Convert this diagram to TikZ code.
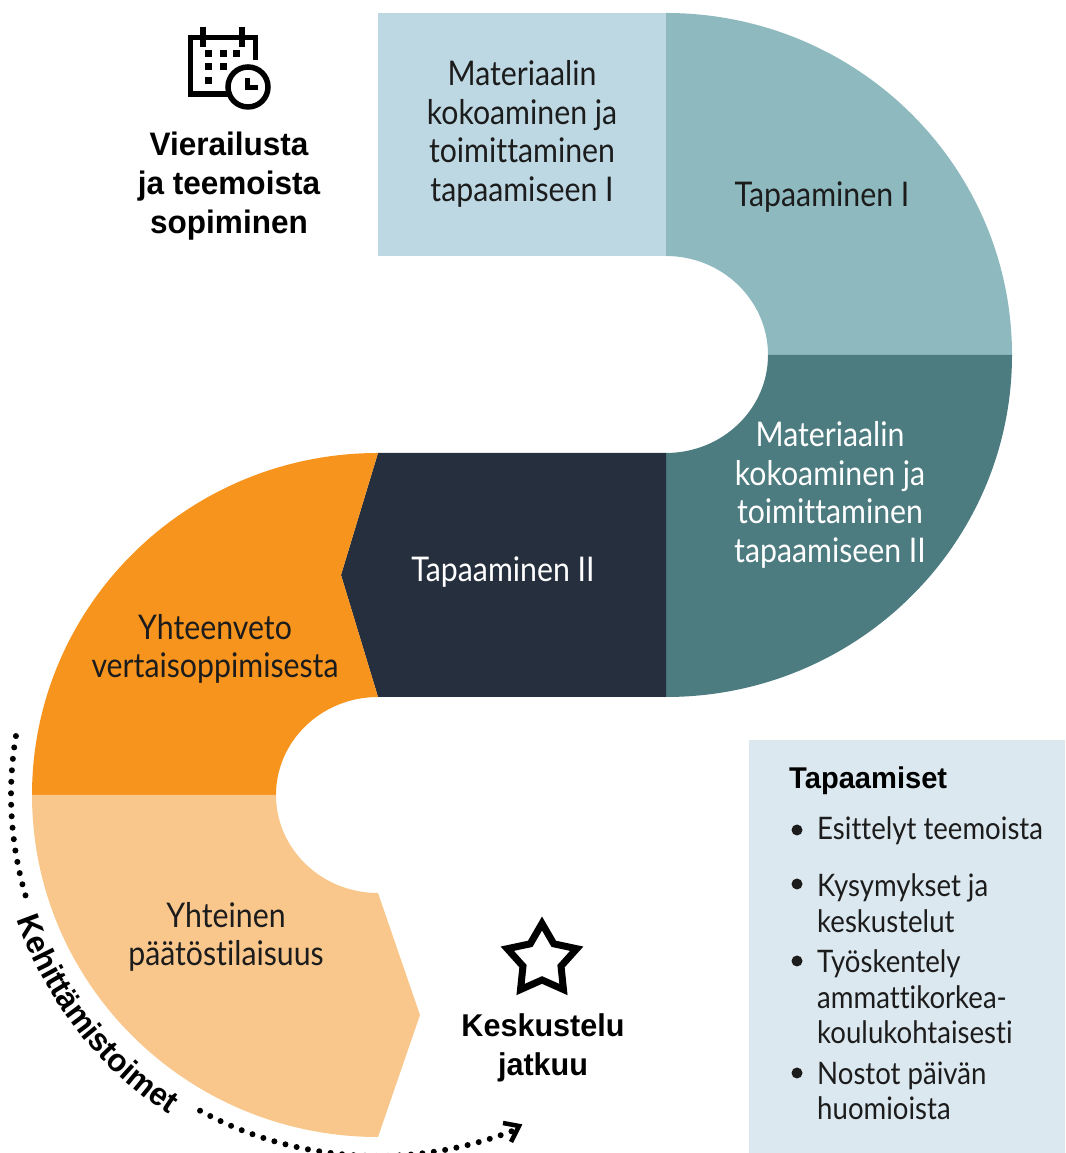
\documentclass[tikz,border=0pt]{standalone}
\usepackage{fontspec}
\setmainfont{Lato}
\newfontfamily\condf[FakeStretch=0.89,Ligatures=NoCommon]{Lato}
\newfontfamily\boldf[FakeStretch=0.97]{Liberation Sans Bold}
\usetikzlibrary{decorations.text}
\definecolor{cLightBlue}{HTML}{BDD8E3}
\definecolor{cTeal}{HTML}{8EB9BE}
\definecolor{cDeepTeal}{HTML}{4C7B80}
\definecolor{cNavy}{HTML}{262F3E}
\definecolor{cOrange}{HTML}{F7941E}
\definecolor{cPeach}{HTML}{F9C78C}
\definecolor{cPanel}{HTML}{DCE8EF}
\definecolor{cInk}{HTML}{1C1C1C}
\tikzset{
  lab/.style={align=center,inner sep=0pt,text=cInk,font=\condf\fontsize{34}{38.5}\selectfont},
  labw/.style={lab,text=white},
  head/.style={align=center,inner sep=0pt,text=black,font=\boldf\fontsize{32.5}{39}\selectfont},
  item/.style={align=left,inner sep=0pt,anchor=west,text=cInk,font=\condf\fontsize{31}{35.5}\selectfont},
  bul/.style={circle,fill=cInk,inner sep=0pt,minimum size=11pt},
  dots/.style={draw=black,line width=6pt,line cap=round,dash pattern=on 0pt off 11.5pt},
  cal/.style={draw=black,line width=5.5pt},
  cell/.style={fill=black,inner sep=0pt,minimum size=7pt}
}
\begin{document}
\begin{tikzpicture}[x=1pt,y=1pt]
\useasboundingbox (0,0) rectangle (1065,1153);
% band shapes
\fill[cLightBlue] (378,1140) rectangle (666,897);
\fill[cTeal] (666,1140) arc[start angle=90,end angle=0,x radius=346,y radius=342]
  -- (768,798) arc[start angle=0,end angle=90,x radius=102,y radius=99] -- cycle;
\fill[cDeepTeal] (1012,798) arc[start angle=0,end angle=-90,x radius=346,y radius=342]
  -- (666,700) arc[start angle=-90,end angle=0,x radius=102,y radius=98] -- cycle;
\fill[cNavy] (378,700) -- (666,700) -- (666,456) -- (378,456) -- (341,578) -- cycle;
\fill[cOrange] (378,700) arc[start angle=90,end angle=180,x radius=346,y radius=342]
  -- (276,358) arc[start angle=180,end angle=90,x radius=102,y radius=98] -- (341,578) -- cycle;
\fill[cPeach] (32,358) arc[start angle=180,end angle=270,x radius=346,y radius=342]
  -- (420,138) -- (378,260) arc[start angle=270,end angle=180,x radius=102,y radius=98] -- cycle;
% band labels
\node[lab] (mat1) at (522,1019) {Materiaalin\\kokoaminen ja\\toimittaminen\\tapaamiseen I};
\node[lab] (tap1) at (822,956) {Tapaaminen I};
\node[labw] (mat2) at (830,658) {Materiaalin\\kokoaminen ja\\toimittaminen\\tapaamiseen II};
\node[labw] (tap2) at (503,581) {Tapaaminen II};
\node[lab] (yht1) at (215,504) {Yhteenveto\\vertaisoppimisesta};
\node[lab] (yht2) at (226,216) {Yhteinen\\päätöstilaisuus};
% heads
\node[head] (vier) at (229,967) {Vierailusta\\ja teemoista\\sopiminen};
\node[head,font=\boldf\fontsize{31.5}{39}\selectfont] (kesk) at (543,105) {Keskustelu\\jatkuu};
% calendar icon
\draw[cal,line join=miter] (255.5,1093) -- (255.5,1115.5) -- (190.5,1115.5) -- (190.5,1059) -- (228,1059);
\draw[cal] (203,1126) -- (203,1106);
\draw[cal] (242,1126) -- (242,1106);
\node[cell] (c1) at (208,1099) {};
\node[cell] (c2) at (223,1099) {};
\node[cell] (c3) at (236,1099) {};
\node[cell] (c4) at (208,1086) {};
\node[cell] (c5) at (223,1086) {};
\node[cell] (c6) at (208,1072) {};
\draw[cal] (248,1066) circle[radius=20];
\draw[draw=black,line width=5pt,line join=miter] (247,1075) -- (247,1065) -- (258,1065);
% star
\begin{scope}[shift={(542,193)}]
\draw[draw=black,line width=7pt,line join=miter,miter limit=8]
 (90:36.5) -- (126:20) -- (162:36.5) -- (198:20) -- (234:36.5) -- (270:20) -- (306:36.5) -- (342:20) -- (18:36.5) -- (54:20) -- cycle;
\end{scope}
% panel
\fill[cPanel] (749,413) rectangle (1065,0);
\node[anchor=west,inner sep=0pt,text=black,font=\boldf\fontsize{30}{35}\selectfont] (ttl) at (789,372) {Tapaamiset};
\node[bul] (b1) at (797,323) {};
\node[item] (i1) at (817,322) {Esittelyt teemoista};
\node[bul] (b2) at (797,269) {};
\node[item] (i2) at (817,250) {Kysymykset ja\\keskustelut};
\node[bul] (b3) at (797,192) {};
\node[item] (i3) at (817,156) {Työskentely\\ammattikorkea-\\koulukohtaisesti};
\node[bul] (b4) at (797,80) {};
\node[item] (i4) at (817,62) {Nostot päivän\\huomioista};
% dotted arc
\coordinate (arcC) at (378,358);
\draw[dots] (arcC) ++(170.6:367 and 361) arc[start angle=170.6,end angle=197.5,x radius=367,y radius=361];
\draw[dots] (arcC) ++(241:367 and 361) arc[start angle=241,end angle=292.5,x radius=367,y radius=361];
\coordinate (tipA) at (503,30);
\coordinate (tipB) at (519,27);
\coordinate (tipC) at (511,11);
\draw[draw=black,line width=4.5pt,line join=miter] (tipA) -- (tipB) -- (tipC);
% curved label
\path[decorate,decoration={text along path,
   text={|\boldf\fontsize{32}{36}\selectfont|Kehittämistoimet},text align=left}]
  (arcC) ++(199:382) arc[start angle=199,end angle=250,radius=382];
\end{tikzpicture}
\end{document}
